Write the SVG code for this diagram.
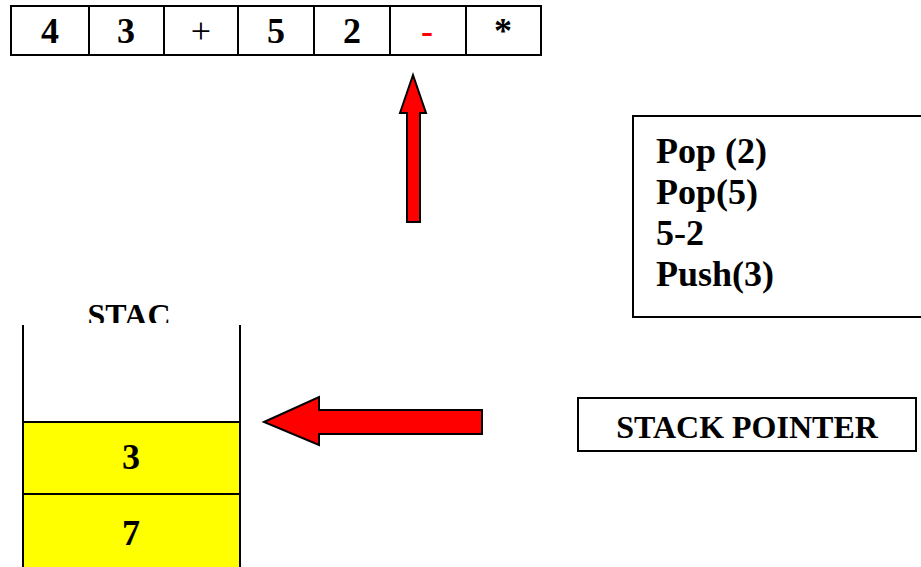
<svg xmlns="http://www.w3.org/2000/svg" width="921" height="567" viewBox="0 0 921 567">
<style>
.t{font-family:"Liberation Serif","Times New Roman",serif;font-weight:bold;fill:#000}
.c{text-anchor:middle}
.d{font-size:36px}
.box{fill:#fff;stroke:#000;stroke-width:2}
.cell{fill:#ffff00;stroke:#000;stroke-width:2}
.ln{stroke:#000;stroke-width:2}
.arr{fill:#ff0000;stroke:#000;stroke-width:2;stroke-linejoin:miter}
</style>
<defs>
<clipPath id="stacclip"><rect x="0" y="290" width="260" height="33"/></clipPath>
</defs>
<rect width="921" height="567" fill="#fff"/>
<g id="expression">
<rect class="box" x="11" y="6" width="530" height="49"/>
<line class="ln" x1="89" y1="6" x2="89" y2="55"/>
<line class="ln" x1="164" y1="6" x2="164" y2="55"/>
<line class="ln" x1="238" y1="6" x2="238" y2="55"/>
<line class="ln" x1="314" y1="6" x2="314" y2="55"/>
<line class="ln" x1="390" y1="6" x2="390" y2="55"/>
<line class="ln" x1="466" y1="6" x2="466" y2="55"/>
<text class="t c d" x="50" y="43">4</text>
<text class="t c d" x="126" y="43">3</text>
<text class="t c d" x="201" y="43" style="font-weight:normal">+</text>
<text class="t c d" x="276" y="43">5</text>
<text class="t c d" x="352" y="43">2</text>
<text class="t c d" x="427" y="43" style="fill:#ff0000">-</text>
<text class="t c d" x="503" y="43">*</text>
</g>
<g id="ops">
<rect class="box" x="633" y="116" width="300" height="201"/>
<text class="t" x="656" y="163" font-size="36">Pop (2)</text>
<text class="t" x="656" y="204" font-size="36">Pop(5)</text>
<text class="t" x="656" y="245" font-size="36">5-2</text>
<text class="t" x="656" y="286" font-size="36">Push(3)</text>
</g>
<g id="stack">
<text class="t c" x="129" y="326" font-size="32" clip-path="url(#stacclip)">STAC</text>
<line class="ln" x1="23" y1="325" x2="23" y2="423"/>
<line class="ln" x1="240" y1="325" x2="240" y2="423"/>
<rect class="cell" x="23" y="422" width="217" height="72"/>
<rect class="cell" x="23" y="494" width="217" height="74"/>
<text class="t c d" x="131" y="469">3</text>
<text class="t c d" x="131" y="545">7</text>
</g>
<g id="stackpointer">
<rect class="box" x="578" y="398" width="338" height="53"/>
<text class="t c" x="747" y="438" font-size="32">STACK POINTER</text>
</g>
<g id="connectors">
<polygon class="arr" points="413,75 426,113 420,113 420,222 407,222 407,113 400,113"/>
<polygon class="arr" points="264,422 319,397 319,410 482,410 482,434 319,434 319,445"/>
</g>
</svg>
